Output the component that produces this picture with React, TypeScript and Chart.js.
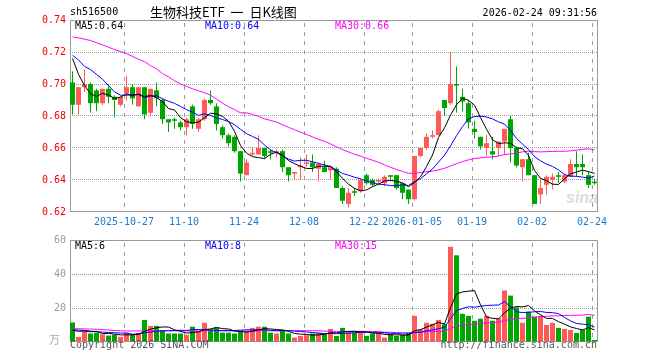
import React, { useEffect, useRef } from "react";
import { Chart, registerables } from "chart.js";

Chart.register(...registerables);

// ---------------- data ----------------
const dates = [
  "2025-10-14","2025-10-15","2025-10-16","2025-10-17","2025-10-20","2025-10-21","2025-10-22","2025-10-23","2025-10-24","2025-10-27","2025-10-28","2025-10-29","2025-10-30","2025-10-31",
  "2025-11-03","2025-11-04","2025-11-05","2025-11-06","2025-11-07","2025-11-10","2025-11-11","2025-11-12","2025-11-13","2025-11-14","2025-11-17","2025-11-18","2025-11-19","2025-11-20","2025-11-21","2025-11-24","2025-11-25","2025-11-26","2025-11-27","2025-11-28",
  "2025-12-01","2025-12-02","2025-12-03","2025-12-04","2025-12-05","2025-12-08","2025-12-09","2025-12-10","2025-12-11","2025-12-12","2025-12-15","2025-12-16","2025-12-17","2025-12-18","2025-12-19","2025-12-22","2025-12-23","2025-12-24","2025-12-25","2025-12-26","2025-12-29","2025-12-30","2025-12-31",
  "2026-01-05","2026-01-06","2026-01-07","2026-01-08","2026-01-09","2026-01-12","2026-01-13","2026-01-14","2026-01-15","2026-01-16","2026-01-19","2026-01-20","2026-01-21","2026-01-22","2026-01-23","2026-01-26","2026-01-27","2026-01-28","2026-01-29","2026-01-30",
  "2026-02-02","2026-02-03","2026-02-04","2026-02-05","2026-02-06","2026-02-09","2026-02-10","2026-02-11","2026-02-12","2026-02-13","2026-02-24",
];

const open = [
  0.701,0.687,0.698,0.700,0.696,0.688,0.697,0.692,0.687,0.694,
  0.698,0.686,0.698,0.682,0.696,0.690,0.678,0.678,0.676,0.673,
  0.686,0.672,0.678,0.690,0.686,0.673,0.668,0.667,0.658,0.643,
  0.656,0.656,0.660,0.658,0.657,0.658,0.648,0.644,0.648,0.650,
  0.651,0.647,0.648,0.646,0.647,0.635,0.625,0.633,0.633,0.643,
  0.640,0.639,0.638,0.643,0.643,0.638,0.634,0.628,0.655,0.660,
  0.667,0.668,0.690,0.688,0.700,0.692,0.688,0.672,0.667,0.660,
  0.658,0.660,0.664,0.678,0.660,0.648,0.653,0.643,0.631,0.637,
  0.640,0.643,0.639,0.642,0.650,0.650,0.643,0.639,
];
const high = [
  0.708,0.698,0.709,0.701,0.697,0.697,0.700,0.693,0.692,0.705,
  0.700,0.698,0.698,0.697,0.701,0.691,0.678,0.679,0.677,0.679,
  0.687,0.679,0.691,0.696,0.688,0.674,0.669,0.668,0.658,0.653,
  0.660,0.668,0.660,0.659,0.659,0.659,0.648,0.645,0.654,0.656,
  0.656,0.651,0.652,0.649,0.648,0.636,0.635,0.635,0.641,0.644,
  0.641,0.641,0.643,0.643,0.643,0.638,0.634,0.655,0.660,0.669,
  0.671,0.684,0.690,0.720,0.711,0.697,0.690,0.677,0.667,0.668,
  0.667,0.664,0.672,0.680,0.661,0.653,0.657,0.643,0.641,0.643,
  0.644,0.645,0.644,0.653,0.658,0.656,0.645,0.641,
];
const low = [
  0.681,0.681,0.695,0.682,0.683,0.687,0.688,0.679,0.686,0.690,
  0.687,0.686,0.678,0.680,0.686,0.675,0.670,0.672,0.671,0.668,
  0.672,0.670,0.677,0.687,0.671,0.666,0.661,0.657,0.639,0.643,
  0.655,0.656,0.653,0.653,0.654,0.645,0.639,0.640,0.640,0.648,
  0.645,0.639,0.645,0.640,0.635,0.625,0.623,0.630,0.632,0.637,
  0.636,0.638,0.636,0.639,0.634,0.628,0.625,0.627,0.654,0.659,
  0.666,0.668,0.680,0.687,0.682,0.683,0.672,0.666,0.659,0.655,
  0.653,0.655,0.656,0.651,0.648,0.639,0.643,0.625,0.625,0.631,
  0.634,0.638,0.638,0.642,0.642,0.643,0.635,0.637,
];
const close = [
  0.687,0.698,0.700,0.688,0.688,0.697,0.692,0.690,0.692,0.698,
  0.691,0.698,0.681,0.697,0.691,0.678,0.676,0.677,0.673,0.678,
  0.675,0.678,0.690,0.688,0.675,0.668,0.663,0.658,0.644,0.651,
  0.657,0.660,0.655,0.657,0.658,0.648,0.643,0.645,0.649,0.651,
  0.648,0.650,0.645,0.648,0.635,0.627,0.632,0.632,0.640,0.638,
  0.637,0.640,0.642,0.642,0.635,0.632,0.628,0.655,0.660,0.667,
  0.668,0.683,0.685,0.700,0.699,0.689,0.676,0.670,0.661,0.663,
  0.656,0.664,0.672,0.660,0.649,0.653,0.643,0.625,0.635,0.642,
  0.642,0.642,0.643,0.650,0.648,0.648,0.637,0.638,
];
// volume, in 万 (10k) lots
const volume = [
  11.5,3.0,6.5,5.0,5.5,4.5,3.8,4.2,3.0,5.5,
  4.5,5.3,13.0,9.5,9.5,7.0,5.0,5.0,5.0,4.2,
  9.0,6.5,11.3,7.5,8.5,5.5,5.5,5.0,6.5,6.5,
  8.3,9.0,9.0,5.5,5.0,7.0,5.0,2.6,3.6,4.0,
  5.0,5.5,5.0,7.7,3.6,8.3,6.5,5.5,6.0,3.6,
  5.0,5.5,2.6,4.5,3.6,4.2,5.5,15.4,7.5,11.3,
  10.7,13.0,10.5,56.0,51.0,16.6,15.4,12.5,13.7,15.4,
  12.5,14.0,30.3,27.3,20.4,11.3,17.8,14.9,15.4,10.0,
  11.3,8.3,7.7,7.1,5.3,7.1,14.9,1.2,
];

// moving-average values drawn before a full window of visible days exists
const ma5PriceHead = [0.716,0.706,0.699,0.694];
const ma10PriceHead = [0.718,0.715,0.711,0.709,0.706,0.703,0.699,0.695,0.693];
const ma30PriceHead = [
  0.7294,0.7288,0.7280,0.7272,0.7258,0.7245,0.7230,0.7215,0.7203,0.7190,
  0.7172,0.7155,0.7140,0.7115,0.7095,0.7065,0.7045,0.7020,0.7000,0.6985,
  0.6970,0.6958,0.6945,0.6930,0.6905,0.6880,0.6858,0.6840,0.6820,
];
const ma5VolHead = [6.9,6.3,6.5,6.0];
const ma10VolHead = [7.2,7.0,6.8,6.4,6.1,5.8,5.6,5.4,5.3];
const ma30VolHead = [
  7.9,7.8,7.7,7.6,7.5,7.3,7.0,6.8,6.6,6.5,
  6.5,6.5,6.6,6.6,6.7,6.7,6.6,6.6,6.5,6.5,
  6.5,6.5,6.6,6.6,6.6,6.5,6.5,6.5,6.4,
];

const tickDates = ["2025-10-27","2025-11-10","2025-11-24","2025-12-08","2025-12-22","2026-01-05","2026-01-19","2026-02-02","2026-02-24"];
const tickLabels = ["2025-10-27","11-10","11-24","12-08","12-22","2026-01-05","01-19","02-02","02-24"];
const priceTicks = [0.62,0.64,0.66,0.68,0.70,0.72,0.74];
const volumeTicks = [0,20,40,60];

// ---------------- styles ----------------
const UP = "#ff5a5a";
const DOWN = "#00a600";
const MA5C = "#000000";
const MA10C = "#0000ff";
const MA30C = "#ff00ff";
const GRID = "#9a9a9a";
const VGRID = "#9a9a9a";
const MONO = '"DejaVu Sans Mono", "Liberation Mono", monospace';
const CJK = '"Noto Sans CJK SC", sans-serif';
const X_OFF = 2.5 / 6; // body centre sits 2.5px right of the slot's left edge

function movingAvg(values: number[], n: number, head: number[]) {
  return values.map((_, i) => {
    if (i < n - 1) return head[i];
    let s = 0;
    for (let k = i - n + 1; k <= i; k++) s += values[k];
    return s / n;
  });
}

const idx = dates.map((_, i) => i);
const candleColor = idx.map((i) => (close[i] >= open[i] ? UP : DOWN));
const tickIdx = tickDates.map((d) => dates.indexOf(d));

// plot frame + dashed vertical date grid lines (positions from the x scale's ticks)
const framePlugin = {
  id: "frame",
  beforeDatasetsDraw(chart: any) {
    const { ctx, chartArea: a, scales } = chart;
    const xs = scales.x;
    ctx.save();
    ctx.strokeStyle = VGRID;
    ctx.lineWidth = 1;
    ctx.setLineDash([4, 5]);
    xs.ticks.forEach((t: any) => {
      const px = Math.round(xs.getPixelForValue(t.value)) + 0.5;
      ctx.beginPath();
      ctx.moveTo(px, a.top + 3);
      ctx.lineTo(px, a.bottom);
      ctx.stroke();
    });
    ctx.setLineDash([]);
    ctx.strokeStyle = "#999";
    ctx.strokeRect(a.left + 0.5, a.top + 0.5, a.right - a.left - 1, a.bottom - a.top - 1);
    ctx.restore();
  },
};

function xScale(showLabels: boolean, height: number) {
  return {
    type: "linear",
    min: -X_OFF,
    max: dates.length - X_OFF,
    offset: false,
    afterBuildTicks: (s: any) => {
      s.ticks = tickIdx.map((i) => ({ value: i - X_OFF + 0.005 }));
    },
    afterFit: (s: any) => {
      s.height = height;
    },
    grid: { display: false, offset: false, drawTicks: false },
    border: { display: false },
    ticks: {
      display: showLabels,
      autoSkip: false,
      maxRotation: 0,
      minRotation: 0,
      padding: 4,
      color: "#1a7bd0",
      font: { family: MONO, size: 10 },
      callback: (v: number) => {
        const k = tickIdx.indexOf(Math.round(v + X_OFF));
        return k >= 0 ? tickLabels[k] : "";
      },
    },
  };
}

function yScale(ticks: number[], color: string, fmt: (v: number) => string) {
  const last = ticks.length - 1;
  return {
    type: "linear",
    min: ticks[0],
    max: ticks[last],
    afterBuildTicks: (s: any) => {
      s.ticks = ticks.map((v) => ({ value: v }));
    },
    afterFit: (s: any) => {
      s.width = 70;
    },
    grid: {
      drawTicks: false,
      lineWidth: 1,
      color: (c: any) => (c.index === 0 || c.index === last ? "rgba(0,0,0,0)" : GRID),
    },
    border: { display: false, dash: [1, 1] },
    ticks: {
      padding: 4,
      color,
      font: { family: MONO, size: 10 },
      callback: (v: number) => fmt(Number(v)),
    },
  };
}

function lineSet(label: string, values: number[], color: string) {
  return {
    type: "line",
    label,
    data: idx.map((i) => ({ x: i, y: values[i] })),
    borderColor: color,
    borderWidth: 1,
    pointRadius: 0,
    tension: 0,
    fill: false,
    order: 0,
  };
}

export default function App() {
  const priceRef = useRef<HTMLCanvasElement>(null);
  const volRef = useRef<HTMLCanvasElement>(null);

  useEffect(() => {
    const ma5 = movingAvg(close, 5, ma5PriceHead);
    const ma10 = movingAvg(close, 10, ma10PriceHead);
    const ma30 = movingAvg(close, 30, ma30PriceHead);
    const vma5 = movingAvg(volume, 5, ma5VolHead);
    const vma10 = movingAvg(volume, 10, ma10VolHead);
    const vma30 = movingAvg(volume, 30, ma30VolHead);

    const common = {
      responsive: false,
      animation: false,
      events: [],
      plugins: { legend: { display: false }, tooltip: { enabled: false }, title: { display: false } },
    };

    const priceChart = new Chart(priceRef.current as HTMLCanvasElement, {
      type: "bar",
      data: {
        datasets: [
          lineSet("MA5", ma5, MA5C),
          lineSet("MA10", ma10, MA10C),
          lineSet("MA30", ma30, MA30C),
          {
            type: "bar",
            label: "body",
            data: idx.map((i) => ({ x: i, y: [open[i], close[i]] })),
            backgroundColor: candleColor,
            barThickness: 5,
            grouped: false,
            minBarLength: 1,
            inflateAmount: 0,
            borderWidth: 0,
            order: 1,
          },
          {
            type: "bar",
            label: "wick",
            data: idx.map((i) => ({ x: i, y: [low[i], high[i]] })),
            backgroundColor: candleColor,
            barThickness: 1,
            grouped: false,
            inflateAmount: 0,
            borderWidth: 0,
            order: 2,
          },
        ],
      } as any,
      options: {
        ...common,
        layout: { padding: { left: 0, top: 20, right: 62, bottom: 0 } },
        scales: {
          x: xScale(true, 18),
          y: yScale(priceTicks, "#ee0000", (v) => v.toFixed(2)),
        },
      } as any,
      plugins: [framePlugin],
    });

    const volChart = new Chart(volRef.current as HTMLCanvasElement, {
      type: "bar",
      data: {
        datasets: [
          lineSet("MA5", vma5, MA5C),
          lineSet("MA10", vma10, MA10C),
          lineSet("MA30", vma30, MA30C),
          {
            type: "bar",
            label: "volume",
            data: idx.map((i) => ({ x: i, y: volume[i] })),
            backgroundColor: candleColor,
            barThickness: 5,
            grouped: false,
            inflateAmount: 0,
            borderWidth: 0,
            order: 1,
          },
        ],
      } as any,
      options: {
        ...common,
        layout: { padding: { left: 0, top: 10, right: 62, bottom: 0 } },
        scales: {
          x: xScale(false, 18),
          y: yScale(volumeTicks, "#999", (v) => (v === 0 ? "" : String(Math.round(v)))),
        },
      } as any,
      plugins: [framePlugin],
    });

    return () => {
      priceChart.destroy();
      volChart.destroy();
    };
  }, []);

  const txt = (style: React.CSSProperties, content: React.ReactNode, key: string) => (
    <div
      key={key}
      style={{
        position: "absolute",
        whiteSpace: "nowrap",
        fontFamily: MONO,
        fontSize: 10,
        lineHeight: "12px",
        ...style,
      }}
    >
      {content}
    </div>
  );

  return (
    <div style={{ position: "absolute", left: 0, top: 0, width: 660, height: 360, background: "#fff", overflow: "hidden" }}>
      <div
        style={{
          position: "absolute",
          left: 566,
          top: 190,
          fontFamily: '"Liberation Sans", sans-serif',
          fontStyle: "italic",
          fontWeight: "bold",
          fontSize: 16,
          lineHeight: "16px",
          color: "#dcdcdc",
        }}
      >
        sina
      </div>
      <canvas ref={priceRef} width={660} height={230} style={{ position: "absolute", left: 0, top: 0 }} />
      <canvas ref={volRef} width={660} height={130} style={{ position: "absolute", left: 0, top: 230 }} />
      {txt({ left: 70, top: 6, color: "#000" }, "sh516500", "code")}
      {txt(
        { left: 150, top: 4, color: "#000", fontFamily: CJK, fontSize: 13, lineHeight: "15px" },
        <>
          生物科技ETF<span style={{ padding: "0 3px" }}> 一 </span>日K线图
        </>,
        "title"
      )}
      {txt({ right: 63, top: 7, color: "#000" }, "2026-02-24 09:31:56", "time")}
      {txt({ left: 75, top: 20, color: MA5C }, "MA5:0.64", "pma5")}
      {txt({ left: 205, top: 20, color: MA10C }, "MA10:0.64", "pma10")}
      {txt({ left: 335, top: 20, color: MA30C }, "MA30:0.66", "pma30")}
      {txt({ left: 75, top: 240, color: MA5C }, "MA5:6", "vma5")}
      {txt({ left: 205, top: 240, color: MA10C }, "MA10:8", "vma10")}
      {txt({ left: 335, top: 240, color: MA30C }, "MA30:15", "vma30")}
      {txt({ left: 49, top: 333, color: "#aaa", fontFamily: CJK, fontSize: 11, lineHeight: "12px" }, "万", "unit")}
      {txt({ left: 70, top: 339, color: "#555" }, "Copyright 2026 SINA.COM", "copy")}
      {txt({ right: 63, top: 339, color: "#555" }, "http://finance.sina.com.cn", "url")}
    </div>
  );
}
